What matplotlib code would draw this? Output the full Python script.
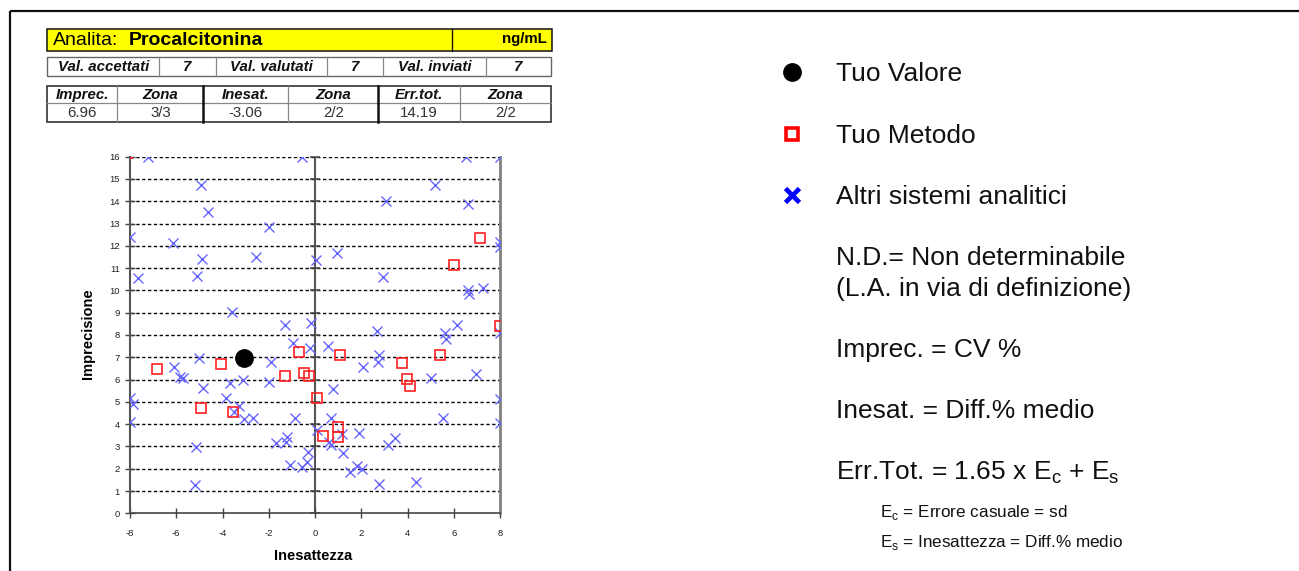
import numpy as np
import matplotlib
matplotlib.use("Agg")
import matplotlib.pyplot as plt
from matplotlib.patches import Rectangle

plt.rcParams['font.family'] = ['Liberation Sans', 'DejaVu Sans']
plt.rcParams['mathtext.fontset'] = 'custom'
plt.rcParams['mathtext.rm'] = 'Liberation Sans'

# ---------------- data ----------------
analita = "Procalcitonina"
unita = "ng/mL"
row2_labels = ["Val. accettati", "7", "Val. valutati", "7", "Val. inviati", "7"]
row3_headers = ["Imprec.", "Zona", "Inesat.", "Zona", "Err.tot.", "Zona"]
row3_values = ["6.96", "3/3", "-3.06", "2/2", "14.19", "2/2"]

altri_x = [-7.21, -8.0, -7.64, -6.13, -4.93, -4.61, -4.87, -5.09, -1.98, -2.55,
           -3.60, -0.58, 0.03, -1.30, -0.17, 6.52, 8.0, 5.19, 3.07, 6.60,
           8.0, 8.0, 0.94, 2.93, 6.60, 6.67, 7.25, 2.70, 5.62, 5.66,
           6.13, 8.0, -0.94, -0.22, -5.00, -6.10, -1.90, -5.84, -5.69, -3.68,
           -3.10, -1.98, -4.86, -3.85, -8.0, -7.86, -8.0, -3.50, -3.27, -3.06,
           -2.70, -0.86, 0.10, -1.69, -1.23, -1.25, -5.15, -0.29, -0.36, -1.08,
           -0.58, -5.19, 0.55, 2.09, 2.78, 2.74, 5.00, 6.96, 0.79, 8.0,
           0.68, 5.52, 8.0, 0.62, 0.68, 1.15, 1.92, 1.22, 3.14, 3.46,
           1.51, 1.80, 2.02, 2.77, 4.37]
altri_y = [16.0, 12.4, 10.54, 12.13, 14.75, 13.51, 11.40, 10.66, 12.85, 11.51,
           9.04, 16.0, 11.36, 8.44, 8.52, 16.0, 16.0, 14.75, 14.0, 13.90,
           12.18, 11.95, 11.69, 10.61, 10.01, 9.86, 10.09, 8.20, 8.07, 7.82,
           8.47, 8.07, 7.62, 7.40, 6.98, 6.57, 6.77, 6.10, 6.05, 5.83,
           5.98, 5.90, 5.60, 5.16, 5.16, 4.90, 4.11, 4.56, 4.81, 4.21,
           4.26, 4.26, 3.74, 3.17, 3.44, 3.21, 2.99, 2.76, 2.31, 2.17,
           2.09, 1.27, 7.52, 6.57, 7.10, 6.80, 6.08, 6.23, 5.56, 5.11,
           4.26, 4.29, 4.04, 3.21, 3.06, 3.56, 3.61, 2.72, 3.06, 3.39,
           1.87, 2.12, 1.97, 1.30, 1.39]

metodo_x = [-8.15, 7.15, 6.01, 8.0, -0.68, -4.06, -6.85, -1.30, -0.48, -0.25,
            -4.94, -3.53, 0.10, 1.08, 3.75, 5.41, 3.99, 4.11, 0.36, 0.98, 0.98]
metodo_y = [16.15, 12.33, 11.13, 8.41, 7.25, 6.68, 6.46, 6.16, 6.31, 6.16,
            4.74, 4.56, 5.16, 7.10, 6.73, 7.10, 6.01, 5.71, 3.47, 3.88, 3.43]

tuo_x = [-3.06]
tuo_y = [6.96]

xticks = list(range(-8, 9, 2))
yticks = list(range(0, 17))

legend_items = ["Tuo Valore", "Tuo Metodo", "Altri sistemi analitici"]
notes = ["N.D.= Non determinabile", "(L.A. in via di definizione)",
         "Imprec. = CV %", "Inesat. = Diff.% medio",
         r"Err.Tot. = 1.65 x E$_\mathregular{c}$ + E$_\mathregular{s}$"]
small_notes = [r"E$_\mathregular{c}$ = Errore casuale = sd",
               r"E$_\mathregular{s}$ = Inesattezza = Diff.% medio"]

# ---------------- figure ----------------
W, H = 1299, 571
fig = plt.figure(figsize=(W / 100, H / 100), dpi=100)
fig.patch.set_facecolor('white')

ov = fig.add_axes([0, 0, 1, 1])
ov.set_xlim(0, W)
ov.set_ylim(H, 0)
ov.axis('off')

# outer border
ov.plot([10, W], [11, 11], color='#111111', lw=1.6, solid_capstyle='butt')
ov.plot([10, 10], [11, H], color='#111111', lw=1.6, solid_capstyle='butt')

# table 1 (yellow)
ov.add_patch(Rectangle((47, 29), 505, 22, facecolor='#ffff00', edgecolor='#111111', lw=1.1))
ov.plot([452, 452], [29, 51], color='#111111', lw=1.0)
ov.text(53, 40.5, "Analita:", fontsize=14, va='center', ha='left')
ov.text(129, 40.5, analita, fontsize=14, va='center', ha='left', fontweight='bold')
ov.text(547, 39.5, unita, fontsize=10.8, va='center', ha='right', fontweight='bold')

# table 2
t2x = [47.3, 159.3, 215.7, 327.3, 383.3, 485.7, 551]
ov.add_patch(Rectangle((t2x[0], 57), t2x[-1] - t2x[0], 19, facecolor='none',
                       edgecolor='#666666', lw=1.0))
for xx in t2x[1:-1]:
    ov.plot([xx, xx], [57, 76], color='#888888', lw=0.9)
for i, lab in enumerate(row2_labels):
    ov.text((t2x[i] + t2x[i + 1]) / 2, 66.8, lab, fontsize=10.8, ha='center',
            va='center', fontweight='bold', fontstyle='italic', color='#111111')

# table 3
t3x = [47.3, 117.3, 203.3, 288.3, 378.3, 460, 551]
ov.add_patch(Rectangle((t3x[0], 85.7), t3x[-1] - t3x[0], 36, facecolor='none',
                       edgecolor='#222222', lw=1.1))
ov.plot([t3x[0], t3x[-1]], [103.3, 103.3], color='#888888', lw=0.9)
for j, xx in enumerate(t3x[1:-1]):
    thick = j in (1, 3)
    ov.plot([xx, xx], [85.7, 121.7], color='#111111' if thick else '#888888',
            lw=1.8 if thick else 0.9)
for i in range(6):
    cx = (t3x[i] + t3x[i + 1]) / 2
    ov.text(cx, 95, row3_headers[i], fontsize=10.8, ha='center', va='center',
            fontweight='bold', fontstyle='italic', color='#111111')
    ov.text(cx, 112.8, row3_values[i], fontsize=10.8, ha='center', va='center',
            color='#333333')

# legend area
ov.plot([792], [72], marker='o', ms=12.5, color='black', ls='none')
ov.plot([792], [134], marker='s', ms=8.5, mfc='white', mec='#ff0000', mew=2.6, ls='none')
ov.plot([792], [195], marker='x', ms=10, mec='#0000ff', mew=3.4, ls='none')
for lab, yy in zip(legend_items, [74, 136, 197]):
    ov.text(836, yy, lab, fontsize=19, va='center', ha='left', color='#111111')
for lab, yy in zip(notes, [258, 289, 350, 411, 473]):
    ov.text(836, yy, lab, fontsize=19, va='center', ha='left', color='#111111')
for lab, yy in zip(small_notes, [513, 543]):
    ov.text(880, yy, lab, fontsize=12.3, va='center', ha='left', color='#111111')

# axis labels
ov.text(313, 556, "Inesattezza", fontsize=10.5, fontweight='bold', ha='center', va='center')
ov.text(88, 334, "Imprecisione", fontsize=10.5, fontweight='bold', ha='center',
        va='center', rotation=90)

# ---------------- scatter ----------------
ax = fig.add_axes([130 / W, 1 - 513.3 / H, 370 / W, 356.6 / H])
ax.set_xlim(-8, 8)
ax.set_ylim(0, 16)
ax.set_facecolor('none')
ax.set_xticks(xticks)
ax.set_yticks(yticks)
ax.set_xticklabels([str(v) for v in xticks])
ax.set_yticklabels([str(v) for v in yticks])

for yy in yticks[1:]:
    ax.axhline(yy, color='black', lw=1.0, ls=(0, (2.4, 1.8)), zorder=1)
ax.axvline(0, color='#555555', lw=1.5, zorder=1.5)
ax.plot(np.zeros(len(yticks)), yticks, marker='_', ms=6.5, mew=1.1,
        color='#444444', ls='none', clip_on=False, zorder=1.6)

ax.spines['top'].set_visible(False)
ax.spines['left'].set_color('#555555')
ax.spines['left'].set_linewidth(1.5)
ax.spines['bottom'].set_color('#444444')
ax.spines['bottom'].set_linewidth(1.2)
ax.spines['right'].set_color('#808080')
ax.spines['right'].set_linewidth(2.0)

ax.tick_params(axis='y', direction='inout', length=6.5, width=1.0, color='#444444',
               pad=4, labelsize=6.8, labelcolor='#222222')
ax.tick_params(axis='x', direction='inout', length=6.5, width=1.0, color='#444444',
               pad=8, labelsize=6.8, labelcolor='#222222')

ax.plot(altri_x, altri_y, marker='x', ms=7, mew=1.0, color='#6666ff', ls='none', zorder=3)
ax.plot(metodo_x, metodo_y, marker='s', ms=6.8, mew=1.2, mfc='none', mec='#ff2020',
        ls='none', zorder=4)
ax.plot(tuo_x, tuo_y, marker='o', ms=12.5, color='black', ls='none', zorder=5)

fig.savefig("out.png", dpi=100, facecolor='white')
